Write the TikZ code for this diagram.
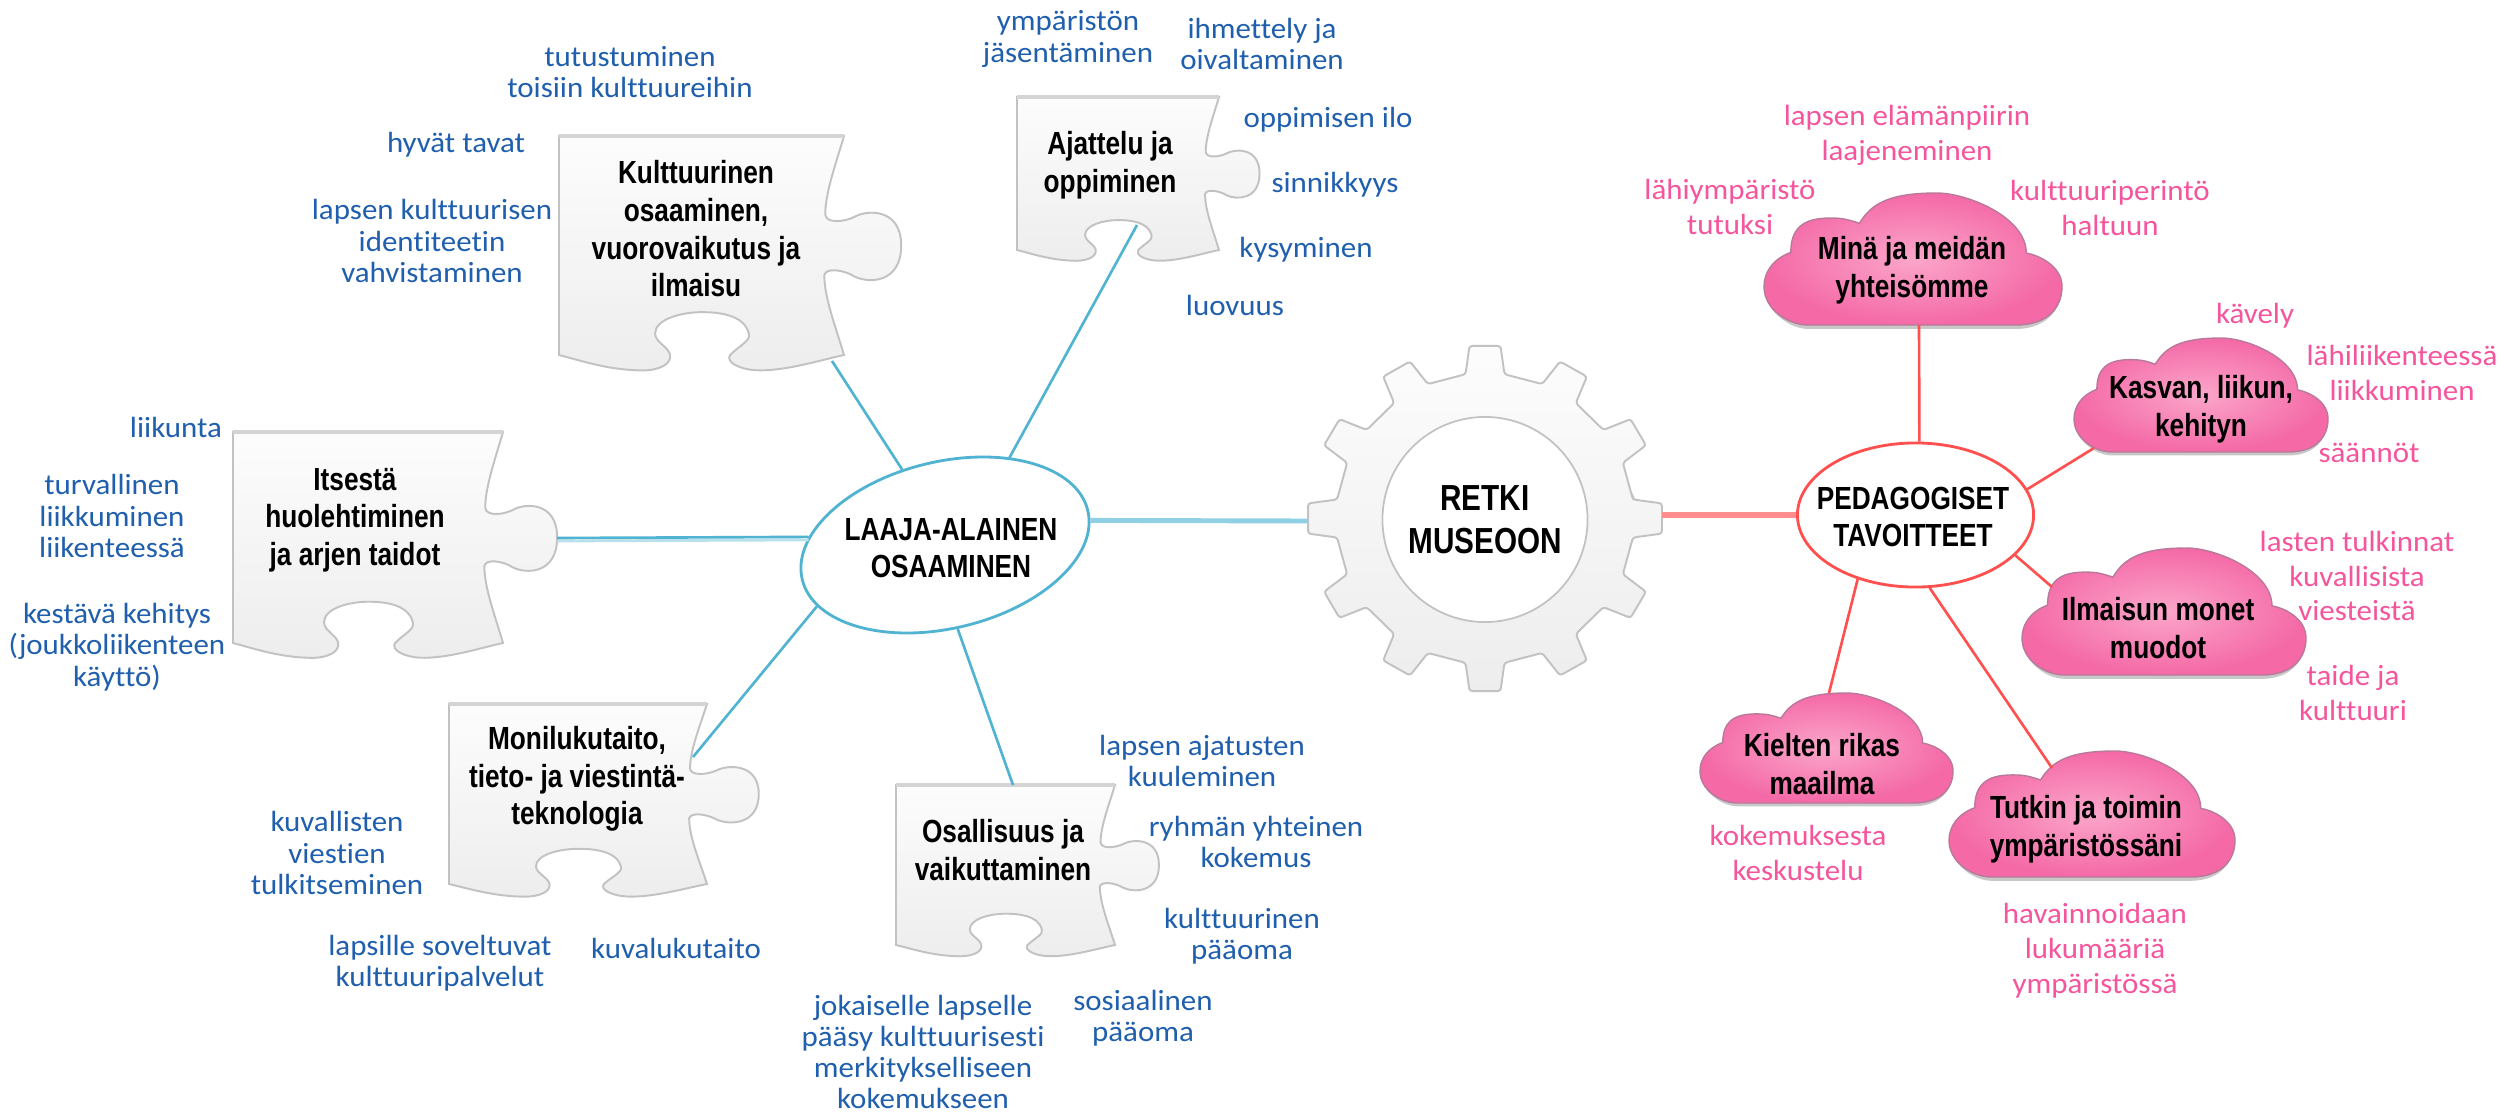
\documentclass[tikz,border=0pt]{standalone}
\usepackage{fontspec}
\usetikzlibrary{shapes.geometric}
\setmainfont[FakeStretch=1.06,Ligatures=NoCommon]{Carlito}
\newfontfamily\hdfont[FakeStretch=0.82]{Liberation Sans}
\definecolor{bluet}{HTML}{1F5FAE}
\definecolor{pinkt}{HTML}{F4559C}
\definecolor{bline}{HTML}{4FB3D1}
\definecolor{blight}{HTML}{8FD0E4}
\definecolor{rline}{HTML}{FF4F4F}
\definecolor{rlight}{HTML}{FF8D8D}
\definecolor{pedge}{HTML}{C2C2C2}
\definecolor{cloudin}{HTML}{FBA6CA}
\definecolor{cloudout}{HTML}{F469A6}
\definecolor{cloudedge}{HTML}{B9799A}
\tikzset{
  x=0.01cm,y=-0.01cm,
  head/.style={font=\hdfont\bfseries\fontsize{9.1}{10.7}\selectfont,align=center,inner sep=0pt,text=black},
  bigh/.style={font=\hdfont\bfseries\fontsize{10.3}{12.2}\selectfont,align=center},
  bluetxt/.style={font=\fontsize{8.3}{8.9}\selectfont,align=center,inner sep=0pt,text=bluet},
  pinktxt/.style={font=\fontsize{8.3}{9.9}\selectfont,align=center,inner sep=0pt,text=pinkt},
  bconn/.style={draw=bline,line width=0.75pt},
  bwide/.style={draw=blight,line width=1.4pt},
  rconn/.style={draw=rline,line width=0.75pt},
  rwide/.style={draw=rlight,line width=1.6pt},
  puzzleshape/.style={draw=pedge,line width=0.55pt,top color=white!98!gray,bottom color=black!7},
  cloudshape/.style={draw=cloudedge,line width=0.4pt,inner color=cloudin,outer color=cloudout},
}
\newcommand{\puzzlepiece}[4]{%
  \begin{scope}[shift={(#1,#2)},xscale={#3/608},yscale={#4/460}]
    \path[puzzleshape] (0,0) -- (608,0)
      .. controls (590,60) and (568,120) .. (568,165)
      .. controls (570,185) and (610,180) .. (630,170)
      .. controls (655,155) and (730,150) .. (730,230)
      .. controls (730,310) and (660,310) .. (630,295)
      .. controls (610,282) and (570,275) .. (566,292)
      .. controls (566,340) and (590,400) .. (608,460)
      .. controls (560,470) and (480,495) .. (420,492)
      .. controls (385,490) and (355,475) .. (365,460)
      .. controls (385,440) and (410,430) .. (405,415)
      .. controls (395,375) and (340,370) .. (305,370)
      .. controls (260,370) and (205,385) .. (205,415)
      .. controls (205,435) and (240,445) .. (237,465)
      .. controls (235,485) and (200,495) .. (165,492)
      .. controls (100,490) and (40,470) .. (0,460) -- cycle;
    \draw[black!17,line width=0.9pt] (0,0) -- (608,0);
  \end{scope}}
\newcommand{\cloudpiece}[4]{%
  \begin{scope}[shift={(#1,#2)},xscale={#3-#1},yscale={#4-#2}]
    \fill[black!30,opacity=0.7] (.149,1.03) -- (.845,1.03) .. controls (.96,1.03) and (1,.85) .. (1,.71) -- (0,.71) .. controls (0,.88) and (.08,1.03) .. (.149,1.03) -- cycle;
    \path[cloudshape] (.149,1) -- (.845,1)
      .. controls (.96,1) and (1,.85) .. (1,.71)
      .. controls (1,.55) and (.92,.47) .. (.88,.455)
      .. controls (.88,.18) and (.68,0) .. (.58,0)
      .. controls (.42,0) and (.36,.08) .. (.32,.23)
      .. controls (.27,.19) and (.25,.19) .. (.22,.19)
      .. controls (.13,.19) and (.09,.27) .. (.09,.45)
      .. controls (.03,.5) and (0,.6) .. (0,.71)
      .. controls (0,.88) and (.08,1) .. (.149,1) -- cycle;
  \end{scope}}
\begin{document}
\begin{tikzpicture}
\path[use as bounding box,fill=white] (0,0) rectangle (2506,1115);

% puzzle pieces
\puzzlepiece{559}{136}{285}{219}
\puzzlepiece{1017}{97}{202}{153}
\puzzlepiece{233}{432}{270}{211}
\puzzlepiece{449}{704}{258}{180}
\puzzlepiece{896}{785}{219}{160}

% gear
\begin{scope}[shift={(1485,518.5)},xscale=1.015,yscale=0.99]
\path[puzzleshape,rounded corners=0.8pt] (-7.5:147)
  foreach \a in {0,30,...,330} { -- (\a-7.5:147) -- (\a-5:175) -- (\a+5:175) -- (\a+7.5:147) } -- cycle;
\end{scope}
\node[circle,draw=pedge,fill=white,line width=0.5pt,minimum size=2.05cm,inner sep=0pt,bigh] (hub) at (1485,519.5) {RETKI\\MUSEOON};

% clouds
\cloudpiece{1764}{193}{2062}{325}
\cloudpiece{2074}{338}{2328}{452}
\cloudpiece{2022}{548}{2306}{675}
\cloudpiece{1700}{693}{1953}{803}
\cloudpiece{1949}{751}{2235}{877}

% hub ellipses
\node[ellipse,draw=bline,fill=white,line width=0.8pt,minimum width=2.936cm,minimum height=1.664cm,inner sep=0pt,rotate=13.6] (laaja) at (945,545) {};
\node[ellipse,draw=rline,fill=white,line width=0.8pt,minimum width=2.36cm,minimum height=1.44cm,inner sep=0pt] (pedag) at (1915.5,515) {};
\node[head] (pedagt) at (1913,517) {PEDAGOGISET\\TAVOITTEET};
\node[head] (laajat) at (951,548) {LAAJA-ALAINEN\\OSAAMINEN};

% connector ends
\coordinate (kultE) at (832,361);
\coordinate (ajatE) at (1137,225);
\coordinate (itseE) at (557,538);
\coordinate (moniE) at (693,757);
\coordinate (osalE) at (1013,785);
\coordinate (gearL) at (1307,521);
\coordinate (gearR) at (1662,515);
\coordinate (minaE) at (1919,325);
\coordinate (kasvE) at (2094,448);
\coordinate (ilmaE) at (2052,587);
\coordinate (kielE) at (1829,693);
\coordinate (tutkE) at (2052,768);

% connectors
\draw[bconn] (laaja.106.2) -- (kultE);
\draw[bconn] (laaja.40.1) -- (ajatE);
\draw[draw=bline!40,line width=0.8pt] ([yshift=-0.03cm]laaja.163.4) -- ([yshift=-0.03cm]itseE);
\draw[bconn] (laaja.163.4) -- (itseE);
\draw[bconn] (laaja.192.8) -- (moniE);
\draw[bconn] (laaja.-95.4) -- (osalE);
\draw[bwide] (laaja.-4.1) -- (gearL);
\draw[rwide] (gearR) -- (pedag.west);
\draw[rconn] (pedag.87.5) -- (minaE);
\draw[rconn] (pedag.13.5) -- (kasvE);
\draw[rconn] (pedag.-22.8) -- (ilmaE);
\draw[rconn] (pedag.228.9) -- (kielE);
\draw[rconn] (pedag.-79.5) -- (tutkE);

% puzzle titles
\node[head] (kult) at (696,229) {Kulttuurinen\\osaaminen,\\vuorovaikutus ja\\ilmaisu};
\node[head] (ajat) at (1110,165) {Ajattelu ja\\oppiminen};
\node[head] (itse) at (355,520) {Itsestä\\huolehtiminen\\ja arjen taidot};
\node[head] (moni) at (577,779) {Monilukutaito,\\tieto- ja viestintä-\\teknologia};
\node[head] (osal) at (1003,850) {Osallisuus ja\\vaikuttaminen};

% cloud titles
\node[head] (mina) at (1912,270) {Minä ja meidän\\yhteisömme};
\node[head] (kasv) at (2201,409) {Kasvan, liikun,\\kehityn};
\node[head] (ilma) at (2158,628) {Ilmaisun monet\\muodot};
\node[head] (kiel) at (1822,764) {Kielten rikas\\maailma};
\node[head] (tutk) at (2086,829) {Tutkin ja toimin\\ympäristössäni};

% blue labels
\node[bluetxt] (b1) at (630,72) {tutustuminen\\toisiin kulttuureihin};
\node[bluetxt] (b2) at (456,145) {hyvät tavat};
\node[bluetxt] (b3) at (432,241) {lapsen kulttuurisen\\identiteetin\\vahvistaminen};
\node[bluetxt] (b4) at (1068,39) {ympäristön\\jäsentäminen};
\node[bluetxt] (b5) at (1262,44) {ihmettely ja\\oivaltaminen};
\node[bluetxt] (b6) at (1328,120) {oppimisen ilo};
\node[bluetxt] (b7) at (1335,185) {sinnikkyys};
\node[bluetxt] (b8) at (1306,250) {kysyminen};
\node[bluetxt] (b9) at (1235,305) {luovuus};
\node[bluetxt] (b10) at (176,427) {liikunta};
\node[bluetxt] (b11) at (112,516) {turvallinen\\liikkuminen\\liikenteessä};
\node[bluetxt] (b12) at (117,647) {kestävä kehitys\\(joukkoliikenteen\\käyttö)};
\node[bluetxt] (b13) at (337,853) {kuvallisten\\viestien\\tulkitseminen};
\node[bluetxt] (b14) at (440,963) {lapsille soveltuvat\\kulttuuripalvelut};
\node[bluetxt] (b15) at (676,948) {kuvalukutaito};
\node[bluetxt] (b16) at (1202,761) {lapsen ajatusten\\kuuleminen};
\node[bluetxt] (b17) at (1256,842) {ryhmän yhteinen\\kokemus};
\node[bluetxt] (b18) at (1242,936) {kulttuurinen\\pääoma};
\node[bluetxt] (b19) at (1143,1018) {sosiaalinen\\pääoma};
\node[bluetxt] (b20) at (923,1052) {jokaiselle lapselle\\pääsy kulttuurisesti\\merkitykselliseen\\kokemukseen};

% pink labels
\node[pinktxt] (p1) at (1907,135) {lapsen elämänpiirin\\laajeneminen};
\node[pinktxt] (p2) at (1730,207) {lähiympäristö\\tutuksi};
\node[pinktxt] (p3) at (2110,208) {kulttuuriperintö\\haltuun};
\node[pinktxt] (p4) at (2255,316) {kävely};
\node[pinktxt] (p5) at (2402,373) {lähiliikenteessä\\liikkuminen};
\node[pinktxt] (p6) at (2369,453) {säännöt};
\node[pinktxt] (p7) at (2357,576) {lasten tulkinnat\\kuvallisista\\viesteistä};
\node[pinktxt] (p8) at (2353,693) {taide ja\\kulttuuri};
\node[pinktxt] (p9) at (1798,853) {kokemuksesta\\keskustelu};
\node[pinktxt] (p10) at (2095,951) {havainnoidaan\\lukumääriä\\ympäristössä};
\end{tikzpicture}
\end{document}
